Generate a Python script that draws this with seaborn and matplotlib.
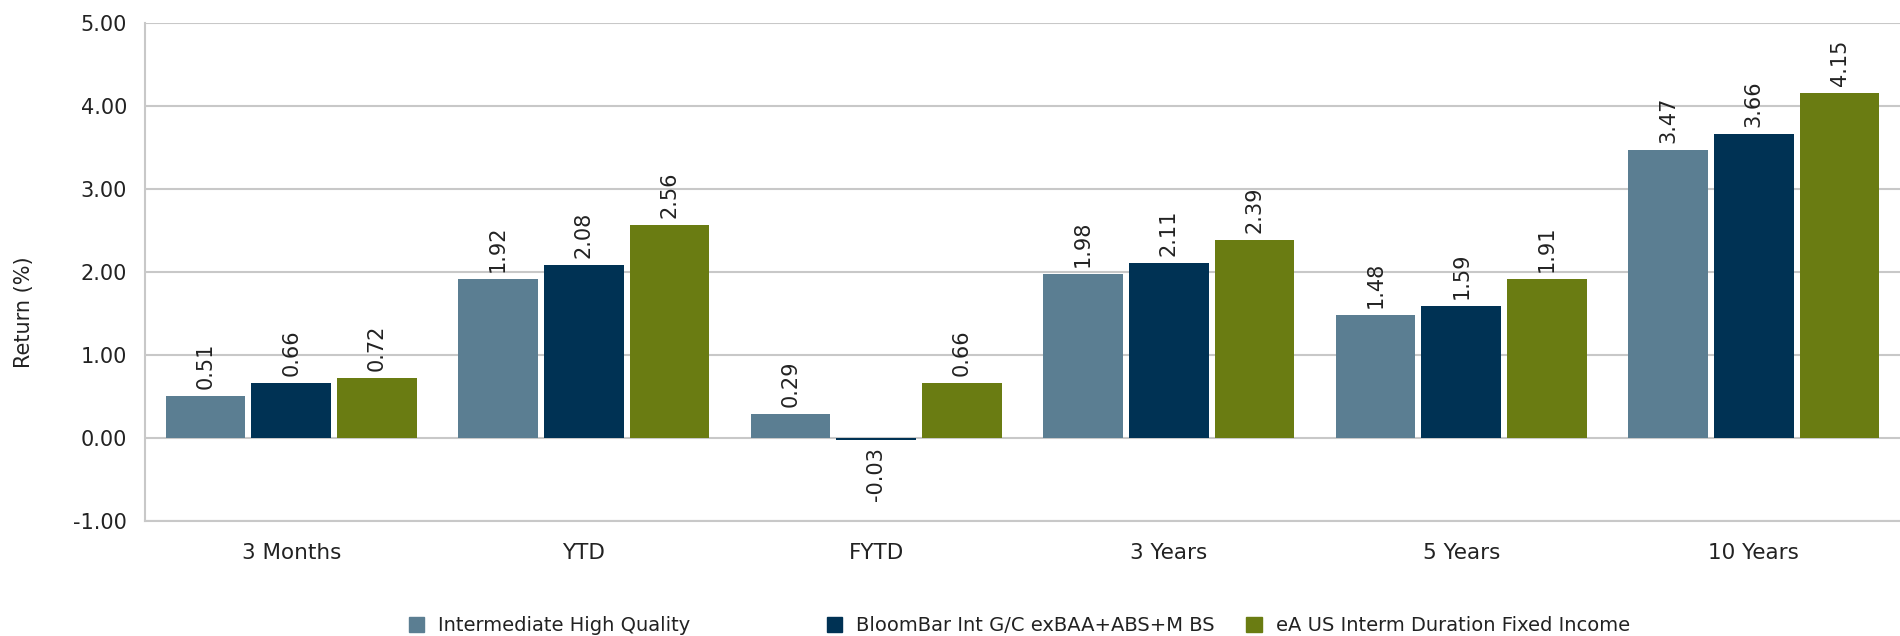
import matplotlib
matplotlib.use("Agg")
import matplotlib.pyplot as plt
import seaborn as sns
import pandas as pd

categories = ["3 Months", "YTD", "FYTD", "3 Years", "5 Years", "10 Years"]
series = ["Intermediate High Quality", "BloomBar Int G/C exBAA+ABS+M BS",
          "eA US Interm Duration Fixed Income"]
ihq = [0.51, 1.92, 0.29, 1.98, 1.48, 3.47]
bloombar = [0.66, 2.08, -0.03, 2.11, 1.59, 3.66]
ea_us = [0.72, 2.56, 0.66, 2.39, 1.91, 4.15]
colors = ["#5B7E92", "#003254", "#6A7C12"]

rows = []
for name, vals in zip(series, [ihq, bloombar, ea_us]):
    for cat, v in zip(categories, vals):
        rows.append({"Period": cat, "Series": name, "Return": v})
df = pd.DataFrame(rows)

sns.set_style("white")
plt.rcParams["font.family"] = ["DejaVu Sans"]
grid_c = "#C8C8C8"
txt_c = "#222222"

fig = plt.figure(figsize=(19, 6.36), dpi=100)
ax = fig.add_axes([0.0763, 0.181, 0.9237, 0.783])

sns.barplot(data=df, x="Period", y="Return", hue="Series", order=categories,
            hue_order=series, palette=colors, width=0.88, gap=0.07,
            saturation=1, linewidth=0, ax=ax, errorbar=None, legend=False)

for cont in ax.containers:
    ax.bar_label(cont, fmt="%.2f", rotation=90, padding=5, fontsize=15, color=txt_c)

ax.set_ylim(-1, 5)
ax.set_yticks([-1, 0, 1, 2, 3, 4, 5])
ax.set_yticklabels([f"{t:.2f}" for t in [-1, 0, 1, 2, 3, 4, 5]])
ax.set_xlim(-0.5, 5.5)
ax.yaxis.grid(True, color=grid_c, linewidth=1.5)
ax.set_axisbelow(True)
for s in ["top", "right"]:
    ax.spines[s].set_visible(False)
for s in ["left", "bottom"]:
    ax.spines[s].set_color(grid_c)
    ax.spines[s].set_linewidth(1.5)
ax.tick_params(axis="y", length=0, labelsize=15, colors=txt_c, pad=13)
ax.tick_params(axis="x", length=0, labelsize=15.5, colors=txt_c, pad=16)
ax.set_xlabel("")
ax.set_ylabel("Return (%)", fontsize=15, color=txt_c)
ax.yaxis.set_label_coords(-0.063, 0.42)

# legend entries placed like the original (evenly spread)
leg_x = [0.215, 0.435, 0.656]
for name, col, lx in zip(series, colors, leg_x):
    h = plt.Rectangle((0, 0), 1, 1, color=col)
    fig.legend([h], [name], loc="center left", bbox_to_anchor=(lx, 0.016),
               frameon=False, fontsize=14, handlelength=0.8, handleheight=0.8,
               handletextpad=0.7, labelcolor=txt_c, borderpad=0, borderaxespad=0)

fig.savefig("out.png", dpi=100)
